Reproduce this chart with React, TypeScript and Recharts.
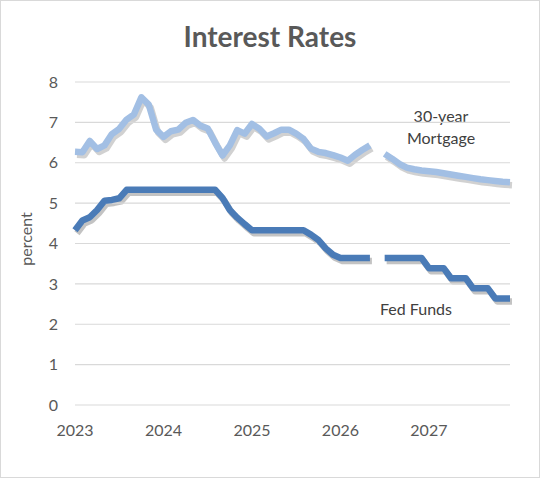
import { LineChart, Line, XAxis, YAxis, CartesianGrid } from 'recharts';

// Monthly history through May 2026, then forecast (June 2026 left blank as the break)
const YEARS = ['2023', '2024', '2025', '2026', '2027'];
const MONTHS = ['Jan', 'Feb', 'Mar', 'Apr', 'May', 'Jun', 'Jul', 'Aug', 'Sep', 'Oct', 'Nov', 'Dec'];
const monthLabels = YEARS.flatMap((y) => MONTHS.map((m) => `${m} ${y}`));

const mortgage30: (number | null)[] = [
  6.27, 6.26, 6.54, 6.34, 6.43, 6.71, 6.84, 7.07, 7.2, 7.62, 7.44, 6.82,
  6.64, 6.78, 6.82, 6.99, 7.06, 6.92, 6.85, 6.5, 6.18, 6.43, 6.81, 6.72,
  6.96, 6.84, 6.65, 6.73, 6.82, 6.82, 6.72, 6.59, 6.35, 6.27, 6.24, 6.19,
  6.13, 6.05, 6.2, 6.32, 6.43, null, 6.22, 6.1, 5.97, 5.88, 5.84, 5.81,
  5.79, 5.77, 5.74, 5.71, 5.68, 5.65, 5.62, 5.59, 5.57, 5.55, 5.53, 5.52,
];

const fedFunds: (number | null)[] = [
  4.33, 4.57, 4.65, 4.83, 5.06, 5.08, 5.12, 5.33, 5.33, 5.33, 5.33, 5.33,
  5.33, 5.33, 5.33, 5.33, 5.33, 5.33, 5.33, 5.33, 5.13, 4.83, 4.64, 4.48,
  4.33, 4.33, 4.33, 4.33, 4.33, 4.33, 4.33, 4.33, 4.22, 4.09, 3.88, 3.72,
  3.64, 3.64, 3.64, 3.64, 3.64, null, 3.64, 3.64, 3.64, 3.64, 3.64, 3.64,
  3.39, 3.39, 3.39, 3.14, 3.14, 3.14, 2.89, 2.89, 2.89, 2.64, 2.64, 2.64,
];

const yTicks = [0, 1, 2, 3, 4, 5, 6, 7, 8];
const yearTicks = YEARS.map((_, i) => i * 12);

const data = monthLabels.map((month, i) => ({
  i,
  month,
  mortgage: mortgage30[i],
  fed: fedFunds[i],
}));

const FONT = 'Lato, "Open Sans", sans-serif';
const tickStyle = { fontSize: 16, fill: '#595959', fontFamily: FONT };
const MARGIN = { top: 82, right: 30, bottom: 43, left: 0 };

// shared line settings; the shadow chart reuses them in grey
const lineBase = {
  strokeWidth: 6.5,
  strokeLinejoin: 'round' as const,
  dot: false,
  isAnimationActive: false,
};

export default function App() {
  return (
    <div
      style={{
        position: 'absolute',
        left: 0,
        top: 0,
        width: 540,
        height: 478,
        background: '#fff',
        border: '1px solid #d9d9d9',
        boxSizing: 'border-box',
        fontFamily: FONT,
      }}
    >
      {/* shadow copy of both series, nudged down-right under the real lines */}
      <div style={{ position: 'absolute', left: 0.5, top: 1.5 }}>
        <LineChart width={540} height={478} data={data} margin={MARGIN}>
          <XAxis dataKey="i" type="number" domain={[0, 59]} ticks={yearTicks} height={30} tick={false} axisLine={false} tickLine={false} />
          <YAxis domain={[0, 8]} ticks={yTicks} width={75} tick={false} axisLine={false} tickLine={false} />
          <Line dataKey="mortgage" stroke="#8c8c8c" strokeOpacity={0.4} {...lineBase} />
          <Line dataKey="fed" stroke="#7a7a7a" strokeOpacity={0.45} {...lineBase} />
        </LineChart>
      </div>

      <div
        style={{
          position: 'absolute',
          top: 18,
          width: '100%',
          textAlign: 'center',
          fontSize: 28,
          fontWeight: 700,
          color: '#595959',
        }}
      >
        Interest Rates
      </div>

      <div
        style={{
          position: 'absolute',
          left: 24,
          top: 238,
          transform: 'translate(-50%, -50%) rotate(-90deg)',
          fontSize: 16,
          color: '#595959',
        }}
      >
        percent
      </div>

      <div
        style={{
          position: 'absolute',
          left: 400,
          top: 104,
          width: 80,
          textAlign: 'center',
          fontSize: 16,
          lineHeight: '22px',
          color: '#404040',
        }}
      >
        30-year
        <br />
        Mortgage
      </div>

      <div
        style={{
          position: 'absolute',
          left: 370,
          top: 298,
          width: 90,
          textAlign: 'center',
          fontSize: 16,
          color: '#404040',
        }}
      >
        Fed Funds
      </div>

      <div style={{ position: 'absolute', left: -1, top: -1 }}>
        <LineChart width={540} height={478} data={data} margin={MARGIN}>
          <CartesianGrid vertical={false} stroke="#d9d9d9" strokeWidth={1.2} />
          <XAxis
            dataKey="i"
            type="number"
            domain={[0, 59]}
            ticks={yearTicks}
            tickFormatter={(v: number) => YEARS[v / 12]}
            axisLine={false}
            tickLine={false}
            tickSize={0}
            tickMargin={20}
            height={30}
            tick={tickStyle}
          />
          <YAxis
            domain={[0, 8]}
            ticks={yTicks}
            axisLine={false}
            tickLine={false}
            tickSize={0}
            tickMargin={17}
            width={75}
            tick={tickStyle}
          />
          <Line dataKey="mortgage" stroke="#a2bfe4" {...lineBase} />
          <Line dataKey="fed" stroke="#4a7bb7" {...lineBase} />
        </LineChart>
      </div>
    </div>
  );
}
